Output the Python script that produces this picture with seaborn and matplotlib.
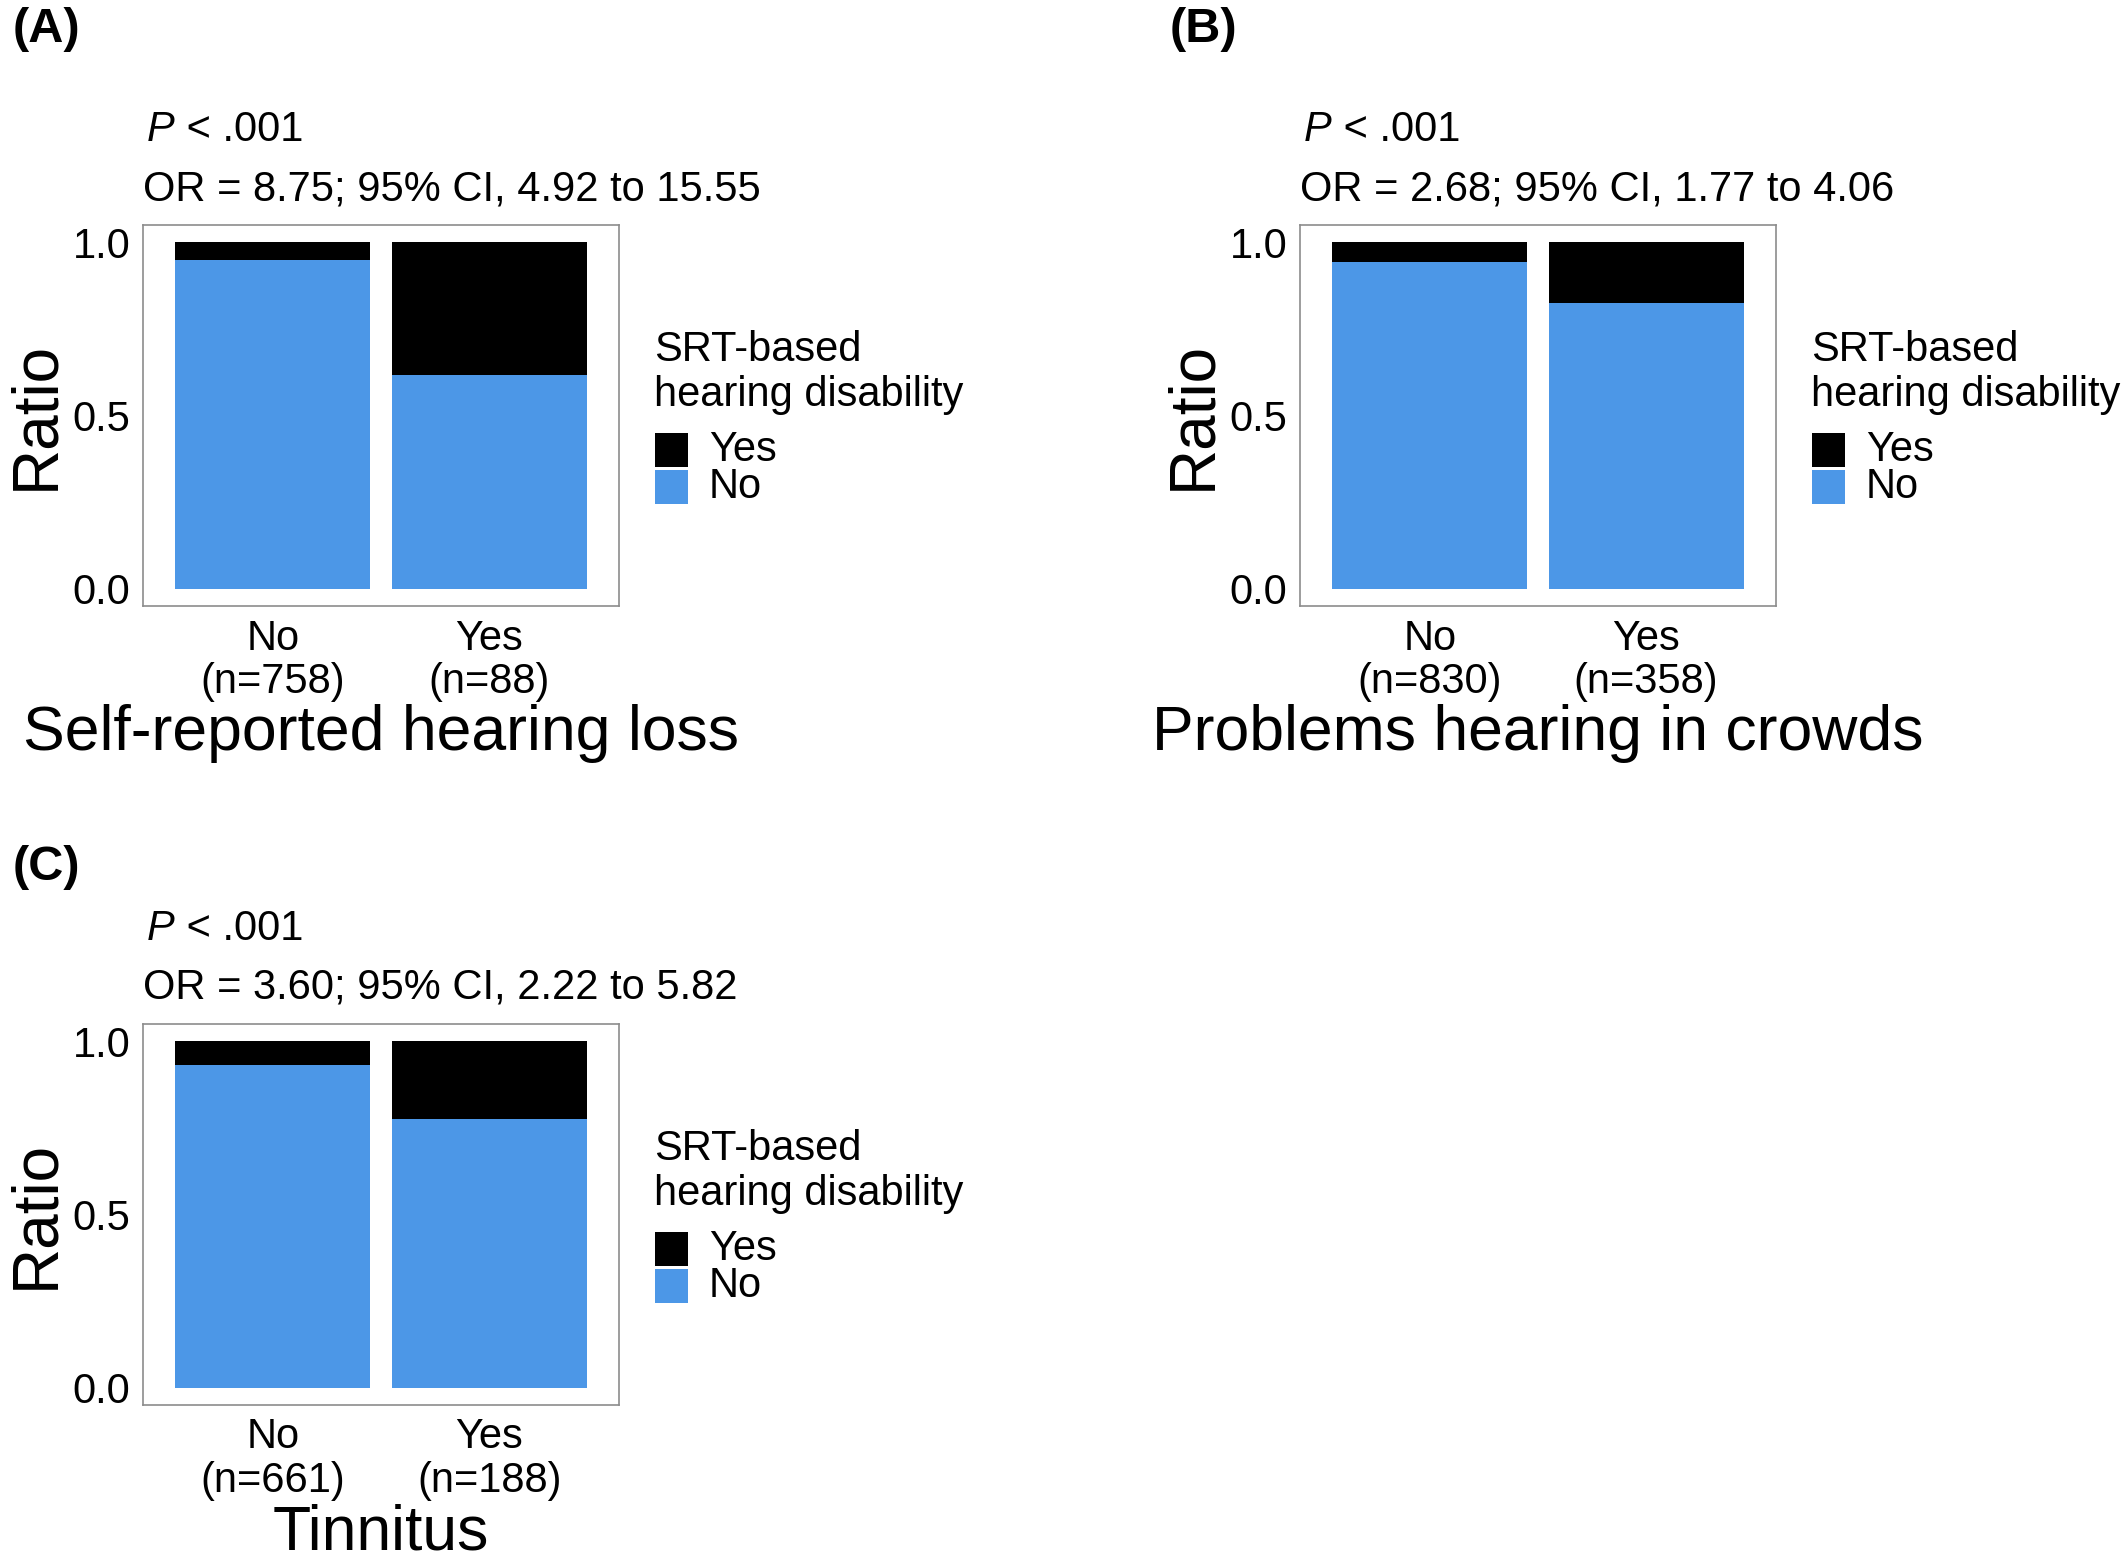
import matplotlib
matplotlib.use("Agg")
import matplotlib.pyplot as plt
from matplotlib.patches import Rectangle
import seaborn as sns
import pandas as pd

# --- data ---
panels = ["(A)", "(B)", "(C)"]
x_titles = ["Self-reported hearing loss", "Problems hearing in crowds", "Tinnitus"]
stats_lines = [
    "OR = 8.75; 95% CI, 4.92 to 15.55",
    "OR = 2.68; 95% CI, 1.77 to 4.06",
    "OR = 3.60; 95% CI, 2.22 to 5.82",
]
p_text = " < .001"
groups = ["No", "Yes"]
n_a = [758, 88]
n_b = [830, 358]
n_c = [661, 188]
no_ratio_a = [0.950, 0.616]
no_ratio_b = [0.942, 0.826]
no_ratio_c = [0.933, 0.776]
yes_ratio_a = [0.050, 0.384]
yes_ratio_b = [0.058, 0.174]
yes_ratio_c = [0.067, 0.224]
legend_title = "SRT-based\nhearing disability"
legend_labels = ["Yes", "No"]

BLUE = "#4C97E7"
W, H = 2128, 1559

sns.set_style("white")
plt.rcParams["font.family"] = ["Liberation Sans", "DejaVu Sans"]
plt.rcParams["text.color"] = "black"

fig = plt.figure(figsize=(W / 100, H / 100), dpi=100)


def fx(px):
    return px / W


def fy(py):
    return 1 - py / H


# panel offsets (pixels): A, B, C
offsets = [(0, 0), (1157, 0), (0, 799)]
label_y = [30, 30, 867]
ns = [n_a, n_b, n_c]
no_ratios = [no_ratio_a, no_ratio_b, no_ratio_c]
yes_ratios = [yes_ratio_a, yes_ratio_b, yes_ratio_c]

FS = 30

for i in range(3):
    dx, dy = offsets[i]
    left, right, top, bottom = 143 + dx, 619 + dx, 225 + dy, 606 + dy
    ax = fig.add_axes([fx(left), fy(bottom), fx(right - left), (bottom - top) / H])

    cats = [f"{g}\n(n={n})" for g, n in zip(groups, ns[i])]
    df = pd.DataFrame({"group": cats, "no": no_ratios[i], "yes": yes_ratios[i]})
    df["total"] = df["no"] + df["yes"]

    sns.barplot(data=df, x="group", y="total", color="black", saturation=1,
                width=0.9, linewidth=0, errorbar=None, ax=ax)
    sns.barplot(data=df, x="group", y="no", color=BLUE, saturation=1,
                width=0.9, linewidth=0, errorbar=None, ax=ax)

    ax.set_xlim(-0.6, 1.6)
    ax.set_ylim(-0.05, 1.05)
    ax.set_yticks([0.0, 0.5, 1.0])
    ax.set_yticklabels(["0.0", "0.5", "1.0"])
    ax.tick_params(axis="both", direction="out", length=5, width=1,
                   color="#333333", labelsize=FS, labelcolor="black", pad=4)
    for lab in ax.get_xticklabels():
        lab.set_linespacing(1.1)
    for s in ax.spines.values():
        s.set_visible(True)
        s.set_color("#8c8c8c")
        s.set_linewidth(1.2)
    ax.set_xlabel(x_titles[i], fontsize=45, labelpad=2, color="black")
    ax.set_ylabel("")

    # rotated y title
    fig.text(fx(36 + dx), fy((top + bottom) / 2), "Ratio", rotation=90,
             fontsize=46, ha="center", va="center")

    # panel label
    fig.text(fx(13 + dx), fy(label_y[i]), panels[i], fontsize=35,
             fontweight="bold", ha="left", va="center")

    # P value and OR line
    pt = fig.text(fx(147 + dx), fy(130 + dy), "P", fontsize=FS,
                  style="italic", ha="left", va="center")
    ax.annotate(p_text, xy=(1, 0), xycoords=pt, fontsize=FS,
                ha="left", va="bottom", annotation_clip=False)
    fig.text(fx(143 + dx), fy(189 + dy), stats_lines[i], fontsize=FS,
             ha="left", va="center")

    # legend drawn by hand to keep the tight ggplot spacing
    lx = 654 + dx
    fig.text(fx(lx), fy(350 + dy), legend_title.split("\n")[0], fontsize=FS,
             ha="left", va="center")
    fig.text(fx(lx), fy(395 + dy), legend_title.split("\n")[1], fontsize=FS,
             ha="left", va="center")
    key_tops = [433, 470]
    key_cols = ["black", BLUE]
    for kt, kc, kl in zip(key_tops, key_cols, legend_labels):
        fig.patches.append(Rectangle((fx(lx + 1), fy(kt + dy + 34)), fx(33), 34 / H,
                                     transform=fig.transFigure, facecolor=kc,
                                     edgecolor="none"))
        fig.text(fx(709 + dx), fy(kt + dy + 17), kl, fontsize=FS,
                 ha="left", va="center")

fig.savefig("out.png", dpi=100, facecolor="white")
